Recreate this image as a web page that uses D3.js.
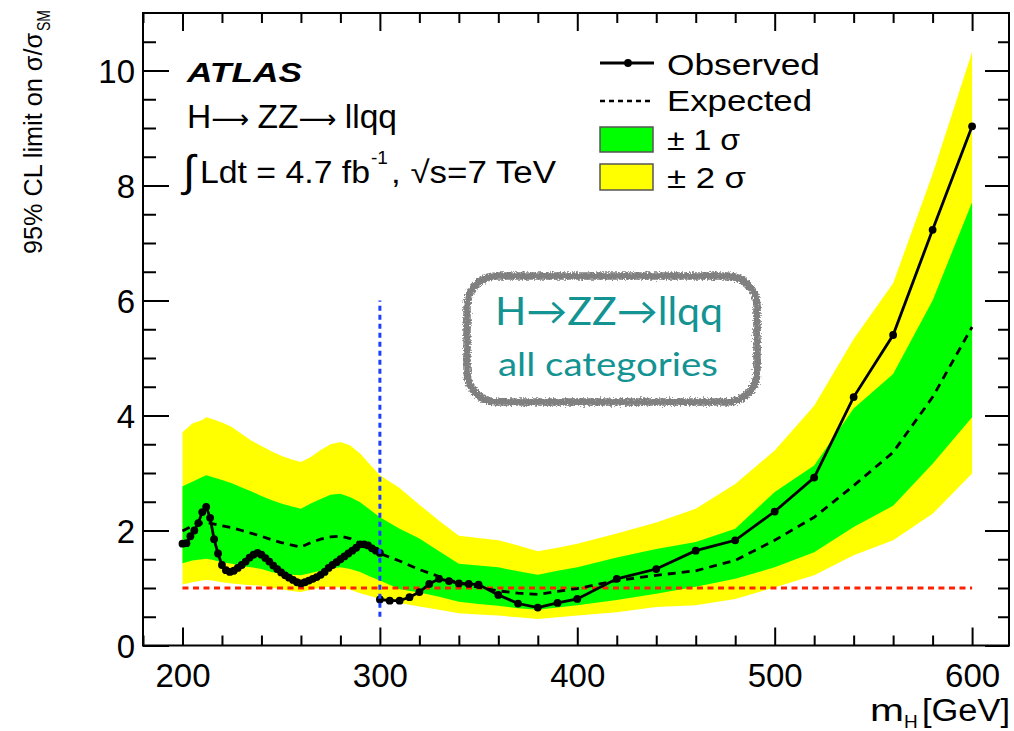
<!DOCTYPE html>
<html><head><meta charset="utf-8">
<script src="https://cdn.jsdelivr.net/npm/d3@7"></script>
<style>body{margin:0;background:#fff} svg{display:block}</style>
</head><body>
<svg id="c" width="1014" height="731"></svg>
<script>
// ---------------- DATA ----------------
const bandMass = [200,205,210,212,215,220,225,230,235,240,245,250,255,260,265,270,275,280,285,290,295,300,310,320,330,340,350,360,370,380,390,400,420,440,460,480,500,520,540,560,580,600];
const expected = [1.99,2.08,2.13,2.14,2.12,2.08,2.05,2.00,1.95,1.90,1.84,1.79,1.75,1.71,1.79,1.85,1.89,1.90,1.86,1.77,1.68,1.60,1.47,1.32,1.20,1.09,1.01,0.95,0.91,0.89,0.94,0.99,1.13,1.22,1.30,1.48,1.83,2.23,2.78,3.36,4.32,5.54];
const plus2  = [3.71,3.86,3.92,3.97,3.94,3.88,3.80,3.68,3.56,3.47,3.38,3.30,3.24,3.19,3.28,3.40,3.50,3.54,3.48,3.34,3.15,2.96,2.74,2.45,2.17,1.91,1.87,1.83,1.74,1.64,1.70,1.77,1.95,2.14,2.38,2.81,3.39,4.17,5.33,6.30,8.20,10.32];
const plus1  = [2.77,2.85,2.93,2.96,2.93,2.88,2.82,2.75,2.68,2.60,2.53,2.47,2.42,2.38,2.47,2.55,2.62,2.64,2.58,2.49,2.36,2.23,2.03,1.86,1.64,1.42,1.39,1.36,1.29,1.23,1.30,1.36,1.53,1.68,1.80,2.03,2.67,3.13,4.12,4.72,6.00,7.71];
const minus1 = [1.43,1.48,1.50,1.51,1.49,1.45,1.42,1.38,1.36,1.33,1.28,1.25,1.23,1.22,1.26,1.30,1.34,1.36,1.33,1.28,1.20,1.13,0.98,0.92,0.85,0.76,0.72,0.69,0.65,0.62,0.66,0.70,0.79,0.90,1.02,1.16,1.36,1.62,2.06,2.43,3.16,3.97];
const minus2 = [1.06,1.10,1.13,1.14,1.13,1.10,1.08,1.06,1.05,1.04,1.01,0.98,0.95,0.93,0.97,1.01,1.02,1.01,0.97,0.91,0.86,0.81,0.74,0.68,0.62,0.56,0.54,0.52,0.49,0.46,0.49,0.52,0.58,0.67,0.70,0.81,1.01,1.22,1.57,1.83,2.29,2.99];

const obsLowMass = [200,202,204,206,208,210,212,214,216,218,220,222,224,226,228,230,232,234,236,238,240,242,244,246,248,250,252,254,256,258,260,262,264,266,268,270,272,274,276,278,280,282,284,286,288,290,292,294,296,298,300];
const obsLowVal  = [1.77,1.78,1.90,2.00,2.13,2.32,2.41,2.22,1.85,1.60,1.40,1.31,1.28,1.30,1.35,1.40,1.46,1.53,1.58,1.61,1.58,1.52,1.46,1.39,1.33,1.27,1.22,1.18,1.14,1.10,1.08,1.10,1.13,1.16,1.19,1.23,1.28,1.35,1.40,1.45,1.50,1.55,1.60,1.65,1.70,1.76,1.76,1.74,1.69,1.65,1.61];
const obsHighMass = [300,305,310,315,320,325,330,335,340,345,350,360,370,380,390,400,420,440,460,480,500,520,540,560,580,600];
const obsHighVal  = [0.80,0.78,0.78,0.84,0.93,1.07,1.16,1.12,1.08,1.07,1.06,0.88,0.73,0.66,0.74,0.81,1.16,1.33,1.65,1.83,2.33,2.92,4.32,5.40,7.23,9.03];

const smLine = [{m:200,v:1},{m:600,v:1}];
const splitLine = [{m:300,v:0.5},{m:300,v:6}];

const xMajor = [200,300,400,500,600];
const xTickLabels = ["200","300","400","500","600"];
const xMinor = [180,220,240,260,280,320,340,360,380,420,440,460,480,520,540,560,580];
const yMajor = [0,2,4,6,8,10];
const yTickLabels = ["0","2","4","6","8","10"];
const yMinor = [0.5,1,1.5,2.5,3,3.5,4.5,5,5.5,6.5,7,7.5,8.5,9,9.5,10.5];

const legendLabels = ["Observed","Expected","± 1 σ","± 2 σ"];

// ---------------- CHART ----------------
const svg = d3.select("#c");
const FONT = "'Liberation Sans', Arial, Helvetica, sans-serif";
const x = d3.scaleLinear().domain([180,618.7]).range([143,1009]);
const y = d3.scaleLinear().domain([0,11]).range([645.5,13]);

const defs = svg.append("defs");
const f = defs.append("filter").attr("id","rough").attr("x","-10%").attr("y","-10%").attr("width","120%").attr("height","120%");
f.append("feTurbulence").attr("type","fractalNoise").attr("baseFrequency","0.55").attr("numOctaves","2").attr("seed","3").attr("result","n");
f.append("feDisplacementMap").attr("in","SourceGraphic").attr("in2","n").attr("scale","6").attr("xChannelSelector","R").attr("yChannelSelector","G");
defs.append("clipPath").attr("id","plotclip").append("rect")
  .attr("x",x(180)).attr("y",y(11)).attr("width",x(618.7)-x(180)).attr("height",y(0)-y(11));

const bandRows = bandMass.map((m,i)=>({m, e:expected[i], p1:plus1[i], m1:minus1[i], p2:plus2[i], m2:minus2[i]}));
const plot = svg.append("g").attr("clip-path","url(#plotclip)");

const area2 = d3.area().x(d=>x(d.m)).y0(d=>y(d.m2)).y1(d=>y(d.p2));
const area1 = d3.area().x(d=>x(d.m)).y0(d=>y(d.m1)).y1(d=>y(d.p1));
plot.append("path").datum(bandRows).attr("d",area2).attr("fill","#ffff00");
plot.append("path").datum(bandRows).attr("d",area1).attr("fill","#00ff00");

const line = d3.line().x(d=>x(d.m)).y(d=>y(d.v));
plot.append("path").datum(smLine).attr("d",line).attr("fill","none")
  .attr("stroke","#ff2200").attr("stroke-width",2.8).attr("stroke-dasharray","6,4.5");

plot.append("path").datum(bandRows.map(d=>({m:d.m,v:d.e}))).attr("d",line).attr("fill","none")
  .attr("stroke","#000").attr("stroke-width",2.8).attr("stroke-dasharray","8,6");

const obsSets = [obsLowMass.map((m,i)=>({m,v:obsLowVal[i]})), obsHighMass.map((m,i)=>({m,v:obsHighVal[i]}))];
obsSets.forEach(s=>{
  plot.append("path").datum(s).attr("d",line).attr("fill","none").attr("stroke","#000").attr("stroke-width",2.8);
  plot.append("g").selectAll("circle").data(s).join("circle")
    .attr("cx",d=>x(d.m)).attr("cy",d=>y(d.v)).attr("r",3.9).attr("fill","#000");
});

plot.append("path").datum(splitLine).attr("d",line).attr("fill","none")
  .attr("stroke","#1f3fff").attr("stroke-width",3).attr("stroke-dasharray","5,4");

// ---------------- AXES ----------------
function styleAxis(g){ g.select(".domain").remove(); g.selectAll("line").attr("stroke","#000").attr("stroke-width",2); }
svg.append("g").attr("transform",`translate(0,${y(0)})`)
  .call(d3.axisBottom(x).tickValues(xMajor).tickSize(-18).tickPadding(18).tickFormat((d,i)=>xTickLabels[i]))
  .call(styleAxis).call(g=>g.selectAll("text").attr("font-family",FONT).attr("font-size",33).attr("fill","#000"));
svg.append("g").attr("transform",`translate(0,${y(0)})`)
  .call(d3.axisBottom(x).tickValues(xMinor).tickSize(-10).tickFormat(""))
  .call(styleAxis);
svg.append("g").attr("transform",`translate(0,${y(11)})`)
  .call(d3.axisTop(x).tickValues(xMajor).tickSize(-18).tickFormat("")).call(styleAxis);
svg.append("g").attr("transform",`translate(0,${y(11)})`)
  .call(d3.axisTop(x).tickValues(xMinor).tickSize(-10).tickFormat("")).call(styleAxis);

svg.append("g").attr("transform",`translate(${x(180)},0)`)
  .call(d3.axisLeft(y).tickValues(yMajor).tickSize(-26).tickPadding(8).tickFormat((d,i)=>yTickLabels[i]))
  .call(styleAxis).call(g=>g.selectAll("text").attr("font-family",FONT).attr("font-size",33).attr("fill","#000").attr("dy","0.36em"));
svg.append("g").attr("transform",`translate(${x(180)},0)`)
  .call(d3.axisLeft(y).tickValues(yMinor).tickSize(-13).tickFormat("")).call(styleAxis);
svg.append("g").attr("transform",`translate(${x(618.7)},0)`)
  .call(d3.axisRight(y).tickValues(yMajor).tickSize(-24).tickFormat("")).call(styleAxis);
svg.append("g").attr("transform",`translate(${x(618.7)},0)`)
  .call(d3.axisRight(y).tickValues(yMinor).tickSize(-11).tickFormat("")).call(styleAxis);

svg.append("rect").attr("x",x(180)).attr("y",y(11)).attr("width",x(618.7)-x(180)).attr("height",y(0)-y(11))
  .attr("fill","none").attr("stroke","#000").attr("stroke-width",2);

// axis titles
const yl = svg.append("g").attr("transform","translate(42,254) rotate(-90)");
yl.append("text").attr("x",0).attr("y",0).attr("font-family",FONT).attr("font-size",26)
  .attr("textLength",221).attr("lengthAdjust","spacingAndGlyphs").text("95% CL limit on σ/σ");
yl.append("text").attr("x",223).attr("y",8).attr("font-family",FONT).attr("font-size",18)
  .attr("textLength",21).attr("lengthAdjust","spacingAndGlyphs").text("SM");

svg.append("text").attr("x",870).attr("y",721).attr("font-family",FONT).attr("font-size",31)
  .attr("textLength",34).attr("lengthAdjust","spacingAndGlyphs").text("m");
svg.append("text").attr("x",904).attr("y",728).attr("font-family",FONT).attr("font-size",19).text("H");
svg.append("text").attr("x",922).attr("y",721).attr("font-family",FONT).attr("font-size",31)
  .attr("textLength",88).attr("lengthAdjust","spacingAndGlyphs").text("[GeV]");

// ---------------- ANNOTATIONS ----------------
svg.append("text").attr("x",187).attr("y",82).attr("font-family",FONT).attr("font-size",28)
  .attr("font-weight","bold").attr("font-style","italic")
  .attr("textLength",115).attr("lengthAdjust","spacingAndGlyphs").text("ATLAS");
const hz = svg.append("text").attr("x",187).attr("y",128).attr("font-family",FONT).attr("font-size",33)
  .attr("textLength",210).attr("lengthAdjust","spacingAndGlyphs");
hz.append("tspan").text("H");
hz.append("tspan").attr("font-family","'DejaVu Sans', sans-serif").attr("font-size",26).text("⟶ ");
hz.append("tspan").text("ZZ");
hz.append("tspan").attr("font-family","'DejaVu Sans', sans-serif").attr("font-size",26).text("⟶ ");
hz.append("tspan").text("llqq");
svg.append("text").attr("x",183).attr("y",186).attr("font-family","'DejaVu Sans', sans-serif").attr("font-size",44)
  .attr("font-weight","200").text("∫");
svg.append("text").attr("x",200).attr("y",183).attr("font-family",FONT).attr("font-size",31)
  .attr("textLength",170).attr("lengthAdjust","spacingAndGlyphs").text("Ldt = 4.7 fb");
svg.append("text").attr("x",371).attr("y",164).attr("font-family",FONT).attr("font-size",19).text("-1");
svg.append("text").attr("x",391).attr("y",183).attr("font-family",FONT).attr("font-size",31)
  .attr("textLength",165).attr("lengthAdjust","spacingAndGlyphs").text(", √s=7 TeV");

// legend
const lg = svg.append("g");
lg.append("line").attr("x1",600).attr("x2",654).attr("y1",63).attr("y2",63).attr("stroke","#000").attr("stroke-width",2.8);
lg.append("circle").attr("cx",628).attr("cy",63).attr("r",3.9).attr("fill","#000");
lg.append("line").attr("x1",600).attr("x2",654).attr("y1",101).attr("y2",101).attr("stroke","#000").attr("stroke-width",2.5).attr("stroke-dasharray","5,4");
lg.append("rect").attr("x",600).attr("y",127).attr("width",53).attr("height",25).attr("fill","#00ff00").attr("stroke","#555").attr("stroke-width",1.5);
lg.append("rect").attr("x",600).attr("y",164).attr("width",53).attr("height",26).attr("fill","#ffff00").attr("stroke","#555").attr("stroke-width",1.5);
const lgText = [{t:legendLabels[0],y:75,w:153},{t:legendLabels[1],y:111,w:145},{t:legendLabels[2],y:150,w:73},{t:legendLabels[3],y:188,w:79}];
lg.selectAll("text.lt").data(lgText).join("text").attr("class","lt")
  .attr("x",667).attr("y",d=>d.y).attr("font-family",FONT).attr("font-size",30)
  .attr("textLength",d=>d.w).attr("lengthAdjust","spacingAndGlyphs").text(d=>d.t);

// boxed label
svg.append("rect").attr("x",467).attr("y",276).attr("width",290).attr("height",126).attr("rx",30).attr("ry",30)
  .attr("fill","none").attr("stroke","#808080").attr("stroke-width",7.5).attr("filter","url(#rough)");
const TEAL = "#149393";
svg.append("text").attr("x",495).attr("y",325).attr("font-family","Lato, 'Open Sans', sans-serif").attr("font-size",38)
  .attr("fill",TEAL).attr("textLength",228).attr("lengthAdjust","spacingAndGlyphs").text("H→ZZ→llqq");
svg.append("text").attr("x",498).attr("y",376).attr("font-family","Lato, 'Open Sans', sans-serif").attr("font-size",33)
  .attr("fill",TEAL).attr("textLength",220).attr("lengthAdjust","spacingAndGlyphs").text("all categories");
</script>
</body></html>
